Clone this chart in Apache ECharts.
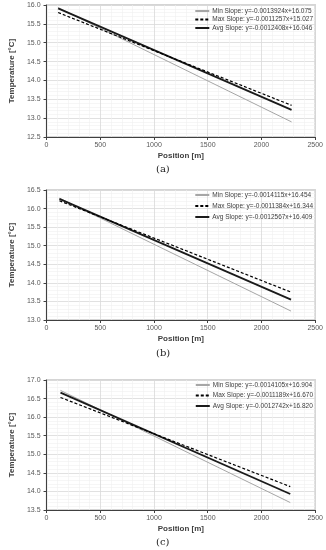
<!DOCTYPE html>
<html>
<head>
<meta charset="utf-8">
<script src="https://cdn.jsdelivr.net/npm/echarts@6/dist/echarts.min.js"></script>
<style>html,body{margin:0;padding:0;background:#fff;}#c{width:326px;height:550px;}</style>
</head>
<body>
<div id="c"></div>
<script>
// ---- data ----
const xTicks = [0, 500, 1000, 1500, 2000, 2500];
const captions = ['(a)', '(b)', '(c)'];
const yRanges = [[12.5, 16.0], [13.0, 16.5], [13.5, 17.0]];

const posA = [108, 2280];
const minA = [15.93, 12.90];
const maxA = [15.80, 13.34];
const avgA = [15.91, 13.22];
const namesA = ['Min Slope: y=-0.0013924x+16.075', 'Max Slope: y=-0.0011257x+15.027', 'Avg Slope: y=-0.0012408x+16.046'];

const posB = [120, 2275];
const minB = [16.28, 13.24];
const maxB = [16.21, 13.75];
const avgB = [16.26, 13.55];
const namesB = ['Min Slope: y=-0.0014115x+16.454', 'Max Slope: y=-0.0011384x+16.344', 'Avg Slope: y=-0.0012567x+16.409'];

const posC = [130, 2268];
const minC = [16.72, 13.70];
const maxC = [16.53, 14.13];
const avgC = [16.66, 13.93];
const namesC = ['Min Slope: y=-0.0014105x+16.904', 'Max Slope: y=-0.0011189x+16.670', 'Avg Slope: y=-0.0012742x+16.820'];

// ---- layout ----
const panels = [
  {pos: posA, vals: [minA, maxA, avgA], names: namesA, top: 5, height: 132, legTop: 7.5, legGap: 1.5, capY: 170},
  {pos: posB, vals: [minB, maxB, avgB], names: namesB, top: 190, height: 130, legTop: 191.5, legGap: 4, capY: 354},
  {pos: posC, vals: [minC, maxC, avgC], names: namesC, top: 380, height: 130, legTop: 381.5, legGap: 3.5, capY: 543}
];
const txt = '#404040';
const font = 'Liberation Sans';
const styles = [
  {color: '#a6a6a6', width: 1, type: 'solid'},
  {color: '#000000', width: 1.2, type: [3, 2]},
  {color: '#1a1a1a', width: 1.8, type: 'solid'}
];

const grids = [], xAxes = [], yAxes = [], series = [], legends = [], graphics = [];
panels.forEach((p, i) => {
  grids.push({left: 32, width: 285, top: p.top, height: p.height, show: true, borderColor: '#c8c8c8', borderWidth: 1.5, backgroundColor: '#fff'});
  xAxes.push({
    type: 'value', gridIndex: i, min: xTicks[0], max: xTicks[xTicks.length - 1], interval: 500,
    name: 'Position [m]', nameLocation: 'middle', nameGap: 15,
    nameTextStyle: {fontFamily: font, fontWeight: 'bold', fontSize: 8, color: txt},
    axisLine: {show: true, onZero: false, lineStyle: {color: '#404040', width: 1}},
    axisTick: {show: true, length: 3, lineStyle: {color: '#404040'}},
    axisLabel: {fontFamily: font, fontSize: 7, color: '#595959', margin: 5, formatter: v => String(v)},
    splitLine: {show: true, lineStyle: {color: '#d9d9d9', width: 0.8}},
    minorTick: {show: false, splitNumber: 5},
    minorSplitLine: {show: true, lineStyle: {color: '#f0f0f0', width: 0.6}}
  });
  yAxes.push({
    type: 'value', gridIndex: i, min: yRanges[i][0], max: yRanges[i][1], interval: 0.5,
    name: 'Temperature [°C]', nameLocation: 'middle', nameGap: 28, nameRotate: 90,
    nameTextStyle: {fontFamily: font, fontWeight: 'bold', fontSize: 8, color: txt},
    axisLine: {show: true, onZero: false, lineStyle: {color: '#404040', width: 1}},
    axisTick: {show: true, length: 3, lineStyle: {color: '#404040'}},
    axisLabel: {fontFamily: font, fontSize: 7, color: '#595959', margin: 6, formatter: v => v.toFixed(1)},
    splitLine: {show: true, lineStyle: {color: '#d9d9d9', width: 0.8}},
    minorTick: {show: false, splitNumber: 5},
    minorSplitLine: {show: true, lineStyle: {color: '#f0f0f0', width: 0.6}}
  });
  p.vals.forEach((v, k) => {
    series.push({
      type: 'line', name: p.names[k], xAxisIndex: i, yAxisIndex: i,
      data: p.pos.map((x, j) => [x, v[j]]),
      showSymbol: false, symbol: 'none', animation: false,
      lineStyle: styles[k], itemStyle: {color: styles[k].color}, z: 3 + (k === 1 ? 1 : 0)
    });
  });
  legends.push({
    data: p.names, orient: 'vertical', right: 13, top: p.legTop, itemGap: p.legGap, padding: 0,
    itemWidth: 14, itemHeight: 7, align: 'left', selectedMode: false,
    itemStyle: {opacity: 0},
    textStyle: {fontFamily: font, fontSize: 6.5, lineHeight: 7, color: txt, padding: [0, 0, 0, -2]}
  });
  graphics.push({
    type: 'text', left: 156, top: p.capY - 6,
    style: {text: captions[i], font: '10px "DejaVu Serif"', fill: '#222'}
  });
});

const chart = echarts.init(document.getElementById('c'), null, {renderer: 'canvas'});
chart.setOption({
  animation: false,
  grid: grids, xAxis: xAxes, yAxis: yAxes, series: series, legend: legends, graphic: graphics
});
</script>
</body>
</html>
